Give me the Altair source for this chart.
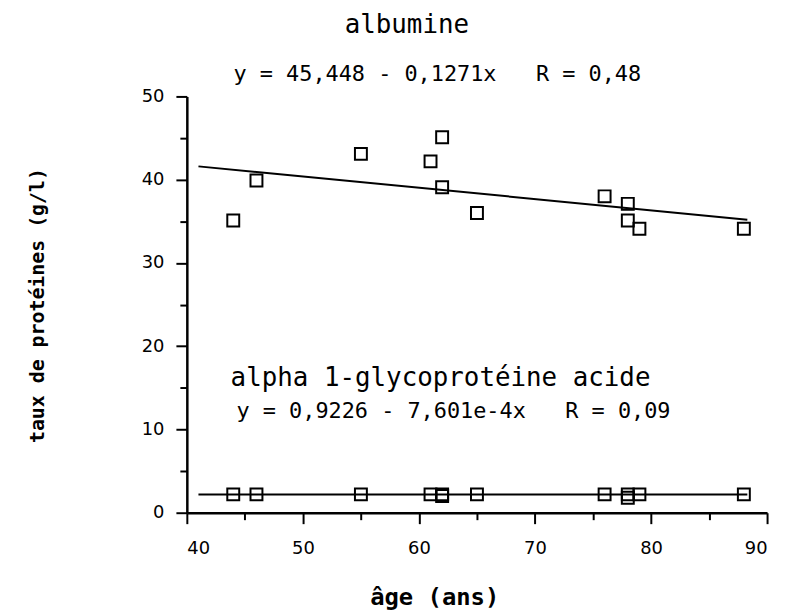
import altair as alt
import pandas as pd

# albumine
alb_age = [44, 46, 55, 61, 62, 62, 65, 76, 78, 78, 79, 88]
alb_val = [35.1, 39.9, 43.1, 42.2, 45.1, 39.1, 36.0, 38.0, 37.1, 35.1, 34.1, 34.1]
alb_line_age = [41, 88.3]
alb_line_val = [41.6, 35.2]

# alpha 1-glycoprotéine acide
agp_age = [44, 46, 55, 61, 62, 62, 65, 76, 78, 78, 79, 88]
agp_val = [2.2, 2.2, 2.2, 2.2, 2.2, 2.0, 2.2, 2.2, 2.2, 1.8, 2.2, 2.2]
agp_line_age = [41, 88.3]
agp_line_val = [2.2, 2.2]

NB = "\u00a0"
texts = ["albumine",
         "y = 45,448 - 0,1271x" + NB * 3 + "R = 0,48",
         "alpha 1-glycoprotéine acide",
         "y = 0,9226 - 7,601e-4x" + NB * 3 + "R = 0,09"]
text_x = [58.96, 44.02, 43.77, 44.28]
text_y = [58.6, 52.7, 16.2, 12.2]
text_size = [26, 22, 26, 22]
text_align = ["center", "left", "left", "left"]

pts = pd.DataFrame({
    "age": alb_age + agp_age,
    "val": alb_val + agp_val,
})
lines = pd.DataFrame({
    "age": alb_line_age + agp_line_age,
    "val": alb_line_val + agp_line_val,
    "grp": ["alb", "alb", "agp", "agp"],
})
tx = pd.DataFrame({"t": [t.replace(" ", NB) for t in texts], "x": text_x,
                   "y": text_y, "s": text_size, "a": text_align})

xs = alt.Scale(domain=[40, 90], nice=False)
ys = alt.Scale(domain=[0, 50], nice=False)

tick_cond = {"condition": {"test": "datum.value % 10 == 0", "value": 11}, "value": 7}

common = dict(labelExpr="datum.value % 10 == 0 ? datum.label : ''",
              titleFont="DejaVu Sans Mono", titleFontWeight="bold",
              labelFont="DejaVu Sans", labelFontSize=18,
              tickSize=tick_cond, tickWidth=2, domainWidth=2.5, domainColor="black",
              tickColor="black", labelColor="black", titleColor="black", grid=False)

xaxis = alt.Axis(values=list(range(40, 91, 5)), title="âge (ans)", titleFontSize=24,
                 titleX=249, titleY=85, titleAlign="center", titleBaseline="middle",
                 labelPadding=16, **common)
yaxis = alt.Axis(values=list(range(0, 51, 5)), title="taux de protéines (g/l)",
                 titleFontSize=20, titleX=-150, titleY=210, titleAngle=270,
                 titleAlign="center", titleBaseline="middle", labelPadding=12,
                 **common)

points = alt.Chart(pts).mark_point(shape="square", filled=False, size=144,
                                   color="black", strokeWidth=2, opacity=1).encode(
    x=alt.X("age:Q", scale=xs, axis=xaxis),
    y=alt.Y("val:Q", scale=ys, axis=yaxis),
)
reg = alt.Chart(lines).mark_line(color="black", strokeWidth=2).encode(
    x=alt.X("age:Q", scale=xs),
    y=alt.Y("val:Q", scale=ys),
    detail="grp:N",
)
base_text = alt.Chart(tx)
lab_center = base_text.transform_filter("datum.a == 'center'").mark_text(
    font="DejaVu Sans Mono", color="black", align="center", baseline="middle").encode(
    x=alt.X("x:Q", scale=xs), y=alt.Y("y:Q", scale=ys), text="t:N",
    size=alt.Size("s:Q", scale=None, legend=None))
lab_left = base_text.transform_filter("datum.a == 'left'").mark_text(
    font="DejaVu Sans Mono", color="black", align="left", baseline="middle").encode(
    x=alt.X("x:Q", scale=xs), y=alt.Y("y:Q", scale=ys), text="t:N",
    size=alt.Size("s:Q", scale=None, legend=None))

chart = alt.layer(reg, points, lab_center, lab_left).properties(
    width=584, height=419,
    background="white",
    autosize=alt.AutoSizeParams(type="none"),
    padding={"left": 180, "top": 87, "right": 10, "bottom": 110},
).configure_view(stroke=None)

chart.save("out.html", embed_options={"renderer": "svg", "actions": False})
